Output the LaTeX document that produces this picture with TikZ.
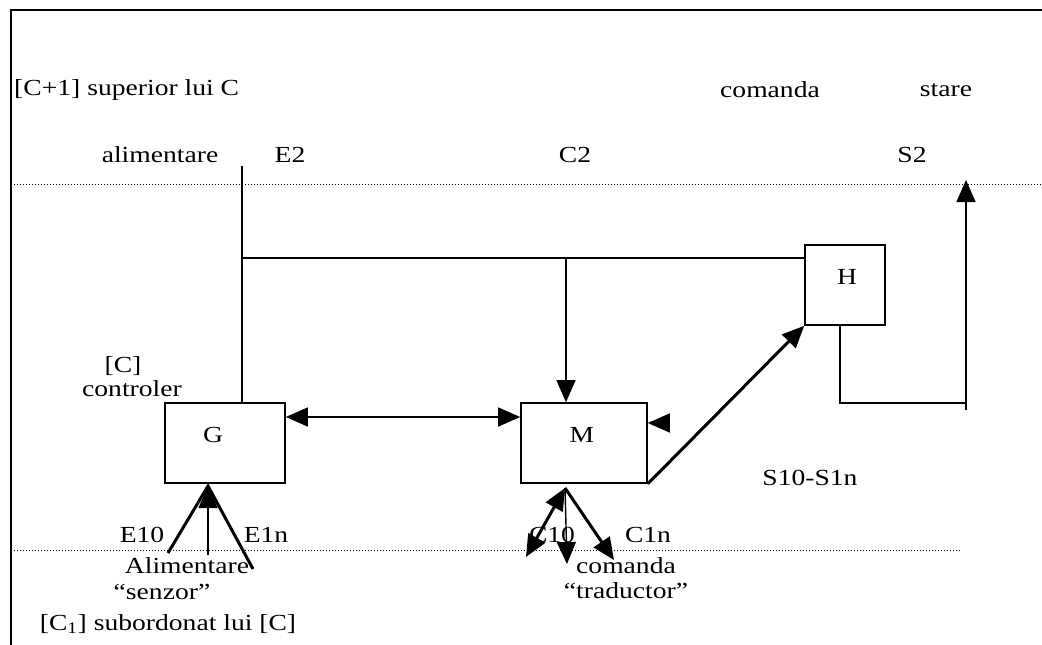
\documentclass[tikz,border=0pt]{standalone}
\usepackage{fontspec}
\setmainfont{Liberation Serif}
\usetikzlibrary{arrows.meta,calc}
\begin{document}
\begin{tikzpicture}[x=1pt,y=-1pt,
  lbl/.style={font=\fontsize{23}{26}\selectfont, inner sep=0pt, xscale=1.2},
  blk/.style={draw, line width=1.6pt, minimum width=120pt, minimum height=80pt, inner sep=0pt},
  wire/.style={line width=1.4pt},
  fat/.style={line width=3pt},
  tri/.style={-{Triangle[length=22pt,width=19pt]}},
  tritri/.style={{Triangle[length=22pt,width=19pt]}-{Triangle[length=22pt,width=19pt]}},
  dot/.style={dotted, line width=1pt}]
\useasboundingbox (0,0) rectangle (1042,645);
% frame
\coordinate (ftl) at (11,10);
\coordinate (ftr) at (1042,10);
\coordinate (fbl) at (11,645);
\draw[line width=2pt] (ftr) -- (ftl) -- (fbl);
% dotted level lines
\coordinate (d1a) at (11,184);
\coordinate (d1b) at (1042,184);
\coordinate (d2a) at (11,550);
\coordinate (d2b) at (960,550);
\draw[dot] (d1a) -- (d1b);
\draw[dot] (d2a) -- (d2b);
% texts top
\node[lbl, anchor=west] (tsup) at (14,90) {[C+1] superior lui C};
\node[lbl] (tcom) at (770,90) {comanda};
\node[lbl] (tsta) at (946,90) {stare};
\node[lbl] (tali) at (160,155) {alimentare};
\node[lbl] (tE2) at (290,155) {E2};
\node[lbl] (tC2) at (575,155) {C2};
\node[lbl] (tS2) at (912,155) {S2};
\node[lbl] (tC) at (123,366) {[C]};
\node[lbl] (tctl) at (132,389) {controler};
% blocks
\node[blk] (G) at (225,443) {};
\node[lbl] (Gl) at (213,435) {G};
\node[blk, minimum width=126pt] (M) at (584,443) {};
\node[lbl] (Ml) at (582,435) {M};
\node[blk, minimum width=80pt] (H) at (845,285) {};
\node[lbl] (Hl) at (847,277) {H};
% E2 line and bus
\coordinate (eTop) at (242,166);
\coordinate (bus) at (242,258);
\coordinate (c2) at (566,258);
\draw[wire] (eTop) -- (eTop |- G.north);
\draw[wire] (bus) -- (bus -| H.west);
\draw[wire, tri] (c2) -- (c2 |- M.north);
% G <-> M
\coordinate (gm) at (0,417);
\draw[wire, tritri] (gm -| G.east) -- (gm -| M.west);
% small arrowhead on M right side
\coordinate (mr) at (669,423);
\draw[wire, tri] (mr) -- (mr -| M.east);
% M -> H diagonal
\draw[fat, tri] (M.south east) -- (H.south west);
% H output to S2
\coordinate (ho) at (840,403);
\coordinate (sc) at (966,403);
\coordinate (sb) at (966,410);
\coordinate (st) at (966,180);
\draw[wire] (ho |- H.south) -- (ho) -- (sc);
\draw[wire, tri] (sb) -- (st);
\node[lbl] (tS1) at (810,478) {S10-S1n};
% G input fan
\coordinate (ga) at (208,486);
\coordinate (g1) at (168,553);
\coordinate (g2) at (208,555);
\coordinate (g3) at (253,569);
\draw[fat] (g1) -- (ga) -- (g3);
\draw[wire, tri] (g2) -- (ga);
\node[lbl] (tE10) at (142,535) {E10};
\node[lbl] (tE1n) at (266,535) {E1n};
\node[lbl] (tAli) at (187,566) {Alimentare};
\node[lbl] (tsen) at (162,592) {“senzor”};
\node[lbl] (tsub) at (168,624) {[C\textsubscript{1}] subordonat lui [C]};
% M output fan
\coordinate (ma) at (565,488);
\coordinate (m1) at (526,557);
\coordinate (m2) at (567,564);
\coordinate (m3) at (614,560);
\node[lbl] (tC10) at (552,535) {C10};
\node[lbl] (tC1n) at (648,535) {C1n};
\node[lbl] (tcmd) at (626,566) {comanda};
\node[lbl] (ttrd) at (626,591) {“traductor”};
\draw[fat, tritri] (m1) -- (ma);
\draw[wire, tri] (ma) -- (m2);
\draw[fat, tri] (ma) -- (m3);
\end{tikzpicture}
\end{document}
